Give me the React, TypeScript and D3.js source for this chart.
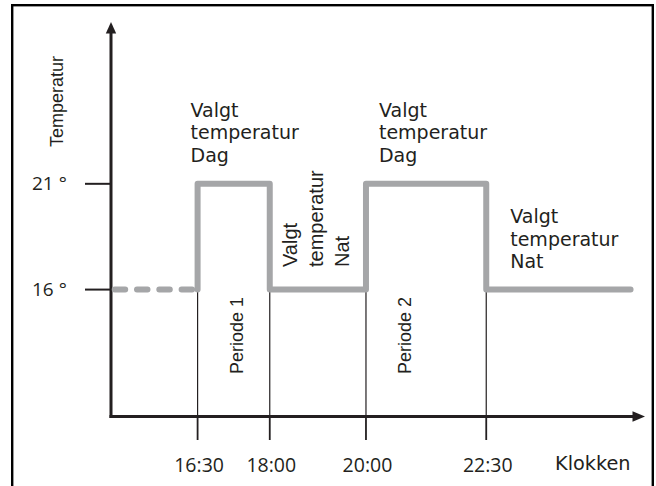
import React from "react";
import * as d3 from "d3";

// ---- data ----
const switchTimes = [990, 1080, 1200, 1350]; // minutes after midnight
const timeLabels = ["16:30", "18:00", "20:00", "22:30"];
const tempTicks = [16, 21];
const tempTickLabels = ["16 °", "21 °"];
const dashedTimes = [882, 990];
const dashedTemps = [16, 16];
const profileTimes = [990, 990, 1080, 1080, 1200, 1200, 1350, 1350, 1530];
const profileTemps = [16, 21, 21, 16, 16, 21, 21, 16, 16];
const periodLabels = ["Periode 1", "Periode 2"];
const periodStarts = [990, 1200];
const dayLabelLines = ["Valgt", "temperatur", "Dag"];
const nightLabelLines = ["Valgt", "temperatur", "Nat"];
const xAxisTitle = "Klokken";
const yAxisTitle = "Temperatur";

const W = 656;
const H = 486;
const INK = "#231f20";
const GRAY = "#a5a6a8";
const FONT_A = "'DejaVu Sans', sans-serif";
const FONT_B = "'Liberation Sans', Arial, sans-serif";
const FONT_N = "'Open Sans', sans-serif";

export default function App() {
  const x = d3.scaleLinear().domain([882, 1548]).range([111, 645]);
  const y = d3.scaleLinear().domain([10, 28.65]).range([416.5, 22]);
  const axisY = y(10);
  const axisX = x(882);

  const line = d3
    .line<number>()
    .x((_, i) => x(profileTimes[i]))
    .y((d) => y(d));
  const profilePath = line(profileTemps) || "";

  const dashLine = d3
    .line<number>()
    .x((_, i) => x(dashedTimes[i]) + (i === 0 ? 3.7 : 0))
    .y((d) => y(d));
  const dashedPath = dashLine(dashedTemps) || "";

  const yTop = y(28.65);
  const xEnd = x(1548);

  return (
    <svg
      width={W}
      height={H}
      style={{ position: "absolute", left: 0, top: 0, background: "#fff" }}
    >
      <rect x={0} y={0} width={W} height={H} fill="#fff" />
      {/* frame */}
      <rect x={12.2} y={5.2} width={640.6} height={490} fill="none" stroke="#000" strokeWidth={2.4} />

      {/* vertical guide lines */}
      {switchTimes.map((t, i) => (
        <g key={"v" + i}>
          <line x1={x(t)} x2={x(t)} y1={y(16)} y2={axisY} stroke={INK} strokeWidth={1.2} />
          <line x1={x(t)} x2={x(t)} y1={axisY} y2={440} stroke={INK} strokeWidth={1.8} />
          <text
            x={x(t) + 1.5}
            y={472}
            textAnchor="middle"
            fontFamily={FONT_N}
            fontSize={19.5}
            fill={INK}
          >
            {timeLabels[i]}
          </text>
        </g>
      ))}

      {/* axes */}
      <line x1={axisX} x2={axisX} y1={axisY + 1.5} y2={yTop + 8} stroke={INK} strokeWidth={3} />
      <path d={`M${axisX},${yTop} L${axisX + 5.2},${yTop + 11.5} L${axisX - 5.2},${yTop + 11.5} Z`} fill={INK} />
      <line x1={axisX - 1.5} x2={xEnd - 8} y1={axisY} y2={axisY} stroke={INK} strokeWidth={3} />
      <path d={`M${xEnd},${axisY} L${xEnd - 12.5},${axisY - 5.2} L${xEnd - 12.5},${axisY + 5.2} Z`} fill={INK} />

      {/* y ticks */}
      {tempTicks.map((v, i) => (
        <g key={"yt" + i}>
          <line x1={85} x2={axisX} y1={y(v)} y2={y(v)} stroke={INK} strokeWidth={2} />
          <text x={32} y={y(v) + 6.5} fontFamily={FONT_N} fontSize={19} fill={INK}>
            {tempTickLabels[i]}
          </text>
        </g>
      ))}

      {/* temperature profile */}
      <path
        d={dashedPath}
        fill="none"
        stroke={GRAY}
        strokeWidth={6}
        strokeLinecap="round"
        strokeDasharray="10.5,11.8"
      />
      <path
        d={profilePath}
        fill="none"
        stroke={GRAY}
        strokeWidth={6}
        strokeLinejoin="round"
        strokeLinecap="round"
      />

      {/* axis titles */}
      <text
        transform={`translate(63,147) rotate(-90)`}
        fontFamily={FONT_B}
        fontSize={18}
        fill={INK}
      >
        {yAxisTitle}
      </text>
      <text x={555} y={470} fontFamily={FONT_A} fontSize={19.3} fill={INK}>
        {xAxisTitle}
      </text>

      {/* period labels */}
      {periodLabels.map((p, i) => (
        <text
          key={"p" + i}
          transform={`translate(${x(periodStarts[i]) + 45},374) rotate(-90)`}
          fontFamily={FONT_B}
          fontSize={18}
          fill={INK}
        >
          {p}
        </text>
      ))}

      {/* day labels */}
      {[x(990) - 7, x(1200) + 13].map((lx, k) =>
        dayLabelLines.map((s, i) => (
          <text
            key={"d" + k + i}
            x={lx}
            y={116.5 + i * 22.5}
            fontFamily={FONT_A}
            fontSize={19}
            fill={INK}
          >
            {s}
          </text>
        ))
      )}

      {/* night label (horizontal) */}
      {nightLabelLines.map((s, i) => (
        <text
          key={"n" + i}
          x={x(1350) + 24}
          y={223 + i * 22.5}
          fontFamily={FONT_A}
          fontSize={19}
          fill={INK}
        >
          {s}
        </text>
      ))}

      {/* night label (rotated) */}
      {nightLabelLines.map((s, i) => (
        <text
          key={"nr" + i}
          transform={`translate(${297 + i * 26},267) rotate(-90)`}
          fontFamily={FONT_B}
          fontSize={20}
          fill={INK}
        >
          {s}
        </text>
      ))}
    </svg>
  );
}
